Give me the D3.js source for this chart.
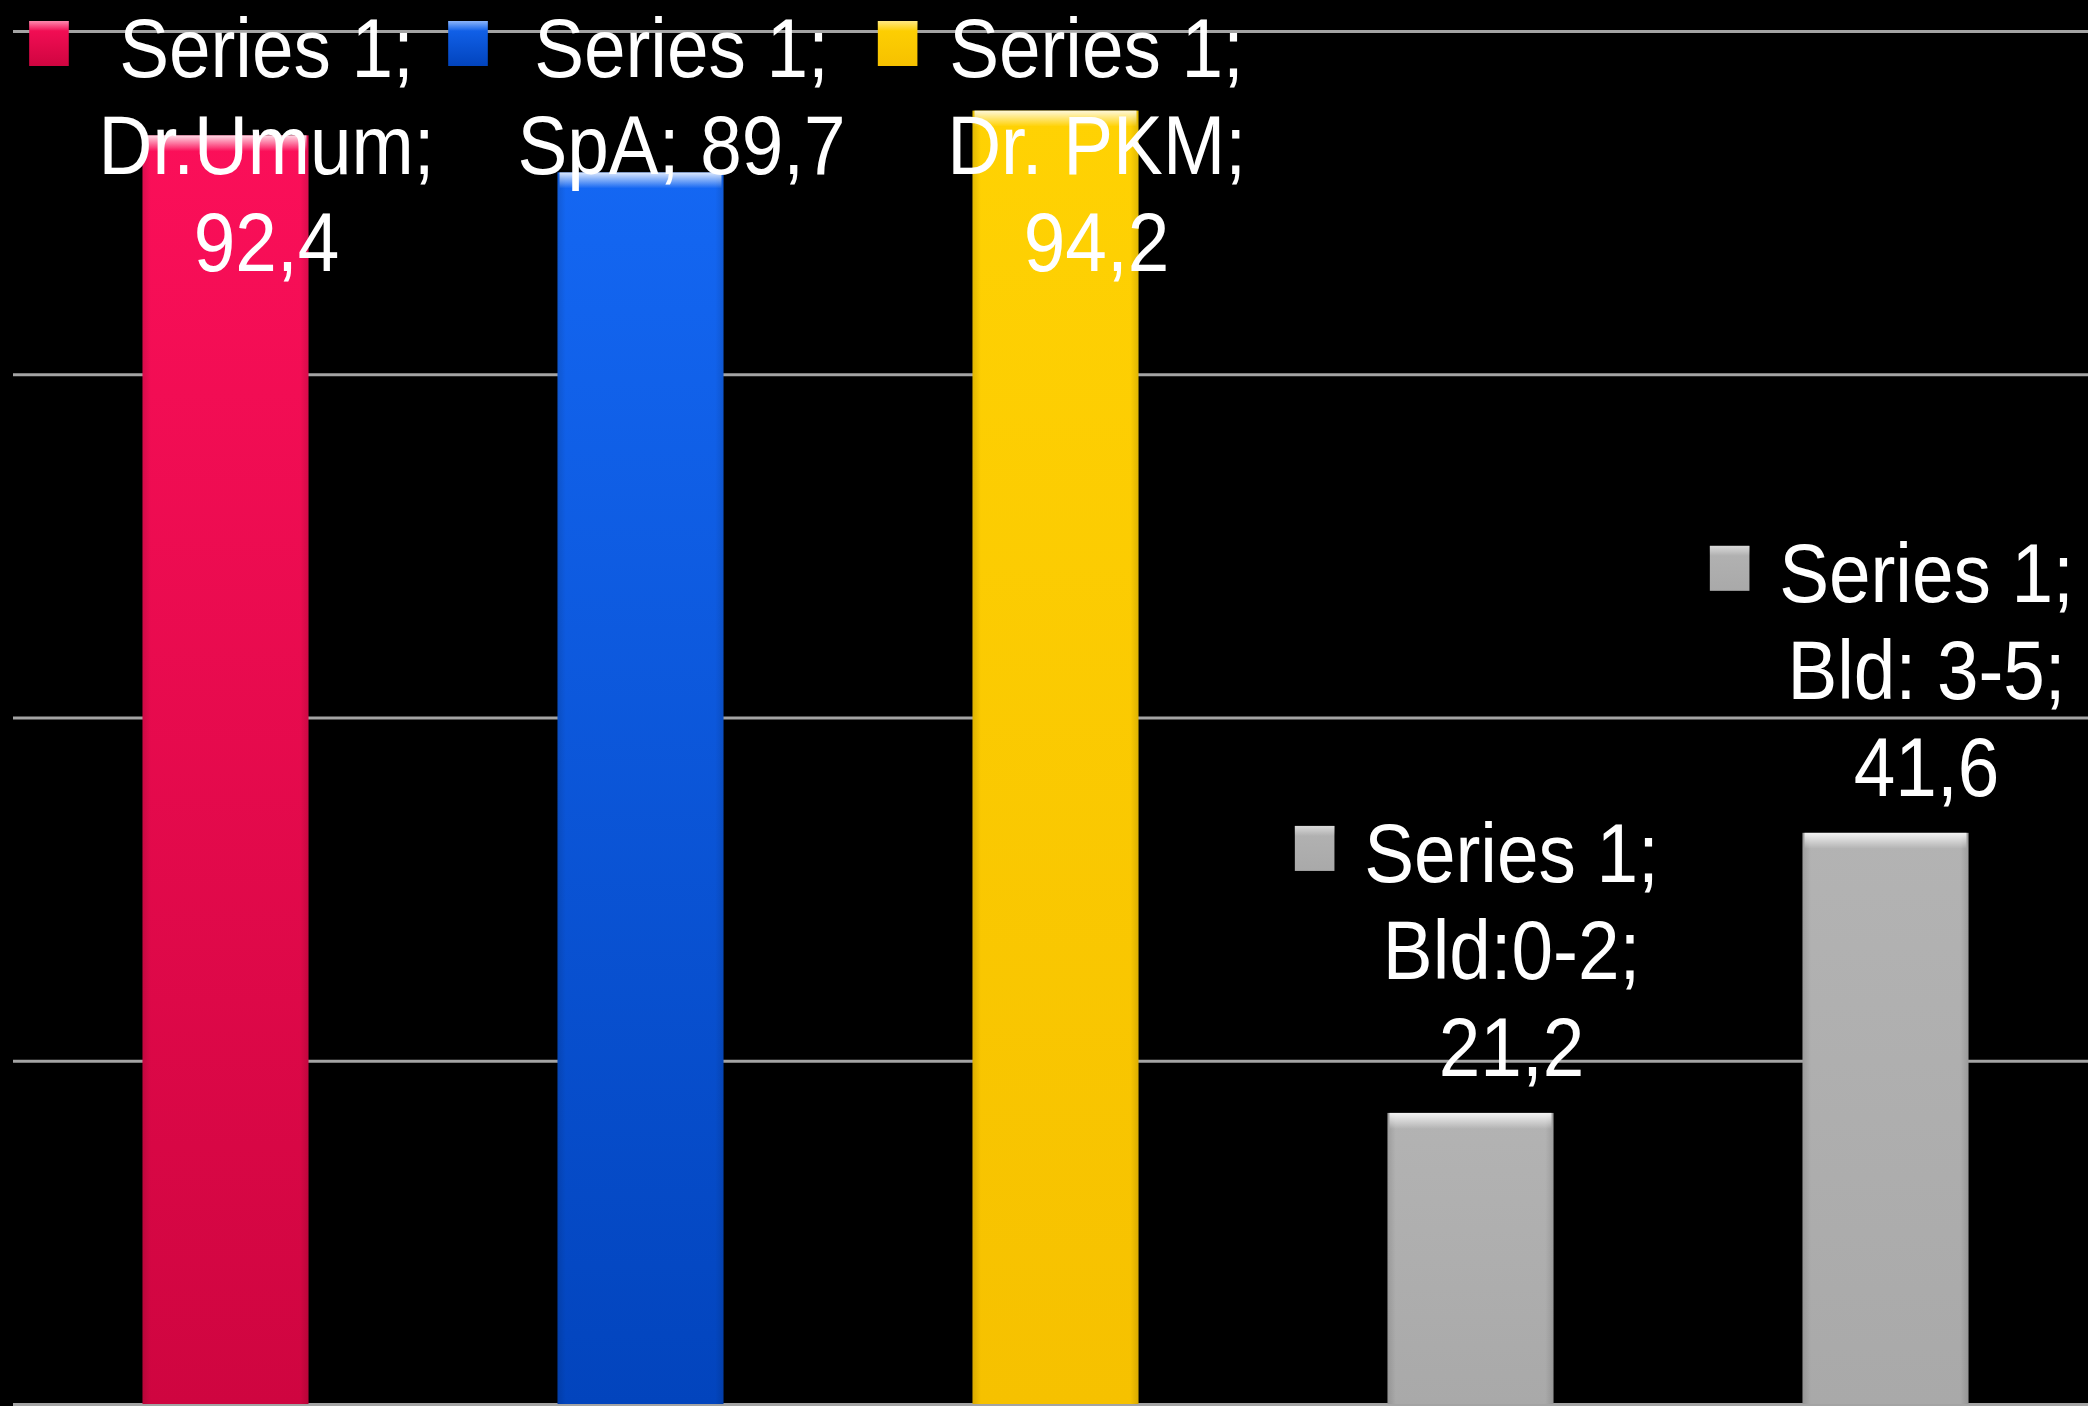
<!DOCTYPE html>
<html>
<head>
<meta charset="utf-8">
<script src="https://cdn.jsdelivr.net/npm/d3@7/dist/d3.min.js"></script>
<style>
  html, body { margin: 0; padding: 0; background: #000; }
  svg { display: block; }
  text { font-family: "Liberation Sans", Arial, sans-serif; fill: #fff; }
</style>
</head>
<body>
<svg id="chart" width="2088" height="1406"></svg>
<script>
// Chart data
const seriesName = "Series 1";
const categories = ["Dr.Umum", "SpA", "Dr. PKM", "Bld:0-2", "Bld: 3-5"];
const values = [92.4, 89.7, 94.2, 21.2, 41.6];
const yTicks = [0, 25, 50, 75, 100];
// Point colours: [top, bottom] of each bar's vertical gradient
const pointColors = [
  ["#fb0f59", "#cf0540"],
  ["#1467f3", "#0244bd"],
  ["#ffd203", "#f6c100"],
  ["#b3b3b3", "#a9a9a9"],
  ["#b3b3b3", "#a9a9a9"]
];

const W = 2088, H = 1406;
const svg = d3.select("#chart");
svg.append("rect").attr("width", W).attr("height", H).attr("fill", "#000");

const gridLeft = 13, gridRight = W;
const y = d3.scaleLinear().domain([0, 100]).range([1404, 31]);
const x = d3.scaleBand().domain(categories).range([18, 2093])
  .paddingInner(0.6).paddingOuter(0.3);

const defs = svg.append("defs");
pointColors.forEach((c, i) => {
  const g = defs.append("linearGradient").attr("id", "fill" + i)
    .attr("x1", 0).attr("y1", 0).attr("x2", 0).attr("y2", 1);
  g.append("stop").attr("offset", "0%").attr("stop-color", c[0]);
  g.append("stop").attr("offset", "100%").attr("stop-color", c[1]);
});
// bevel highlight along the top edge of each bar
const hl = defs.append("linearGradient").attr("id", "bevelTop")
  .attr("x1", 0).attr("y1", 0).attr("x2", 0).attr("y2", 1);
hl.append("stop").attr("offset", "0%").attr("stop-color", "#fff").attr("stop-opacity", 0.85);
hl.append("stop").attr("offset", "35%").attr("stop-color", "#fff").attr("stop-opacity", 0.55);
hl.append("stop").attr("offset", "100%").attr("stop-color", "#fff").attr("stop-opacity", 0);
// slight shading on the bar sides
const side = defs.append("linearGradient").attr("id", "bevelSide")
  .attr("x1", 0).attr("y1", 0).attr("x2", 1).attr("y2", 0);
side.append("stop").attr("offset", "0%").attr("stop-color", "#000").attr("stop-opacity", 0.12);
side.append("stop").attr("offset", "5%").attr("stop-color", "#000").attr("stop-opacity", 0);
side.append("stop").attr("offset", "95%").attr("stop-color", "#000").attr("stop-opacity", 0);
side.append("stop").attr("offset", "100%").attr("stop-color", "#000").attr("stop-opacity", 0.12);

// horizontal gridlines
const grid = svg.append("g")
  .attr("transform", `translate(${gridLeft},0)`)
  .call(d3.axisLeft(y).tickValues(yTicks).tickSize(-(gridRight - gridLeft)).tickFormat(""));
grid.select(".domain").remove();
grid.selectAll(".tick line").attr("stroke", "#a4a4a4").attr("stroke-width", 3);

// bars
const data = categories.map((c, i) => ({ cat: c, value: values[i], i }));
const bars = svg.append("g").selectAll("g").data(data).join("g");
bars.append("rect")
  .attr("x", d => x(d.cat)).attr("width", x.bandwidth())
  .attr("y", d => y(d.value)).attr("height", d => y(0) - y(d.value))
  .attr("fill", d => `url(#fill${d.i})`);
bars.append("rect")
  .attr("x", d => x(d.cat)).attr("width", x.bandwidth())
  .attr("y", d => y(d.value)).attr("height", d => y(0) - y(d.value))
  .attr("fill", "url(#bevelSide)");
bars.append("rect")
  .attr("x", d => x(d.cat) + 2).attr("width", x.bandwidth() - 4)
  .attr("y", d => y(d.value)).attr("height", 16)
  .attr("fill", "url(#bevelTop)");

// data labels with legend keys
const fmt = v => String(v).replace(".", ",");
const fontSize = 83, lineGap = 97, sx = 0.9;
const labels = svg.append("g").selectAll("g").data(data).join("g");
labels.each(function (d) {
  const tail = `${d.cat}; ${fmt(d.value)}`;
  const lines = tail.length <= 9
    ? [`${seriesName};`, tail]
    : [`${seriesName};`, `${d.cat};`, fmt(d.value)];
  const natural = y(d.value) - 37 - (lines.length - 1) * lineGap;
  const base = Math.max(natural, 77);
  const cx = x(d.cat) + x.bandwidth() / 2 + 41;
  const g = d3.select(this).attr("transform", `translate(${cx},${base}) scale(${sx},1)`);
  let maxW = 0;
  lines.forEach((t, k) => {
    const tx = g.append("text")
      .attr("x", 0).attr("y", k * lineGap)
      .attr("text-anchor", "middle")
      .attr("font-size", fontSize)
      .text(t);
    maxW = Math.max(maxW, tx.node().getComputedTextLength());
  });
  g.insert("rect", "text")
    .attr("x", -maxW / 2 - 33 - 44).attr("y", -56)
    .attr("width", 44).attr("height", 45)
    .attr("fill", `url(#fill${d.i})`);
  g.insert("rect", "text")
    .attr("x", -maxW / 2 - 33 - 44).attr("y", -56)
    .attr("width", 44).attr("height", 10)
    .attr("fill", "url(#bevelTop)").attr("opacity", 0.6);
});
</script>
</body>
</html>
